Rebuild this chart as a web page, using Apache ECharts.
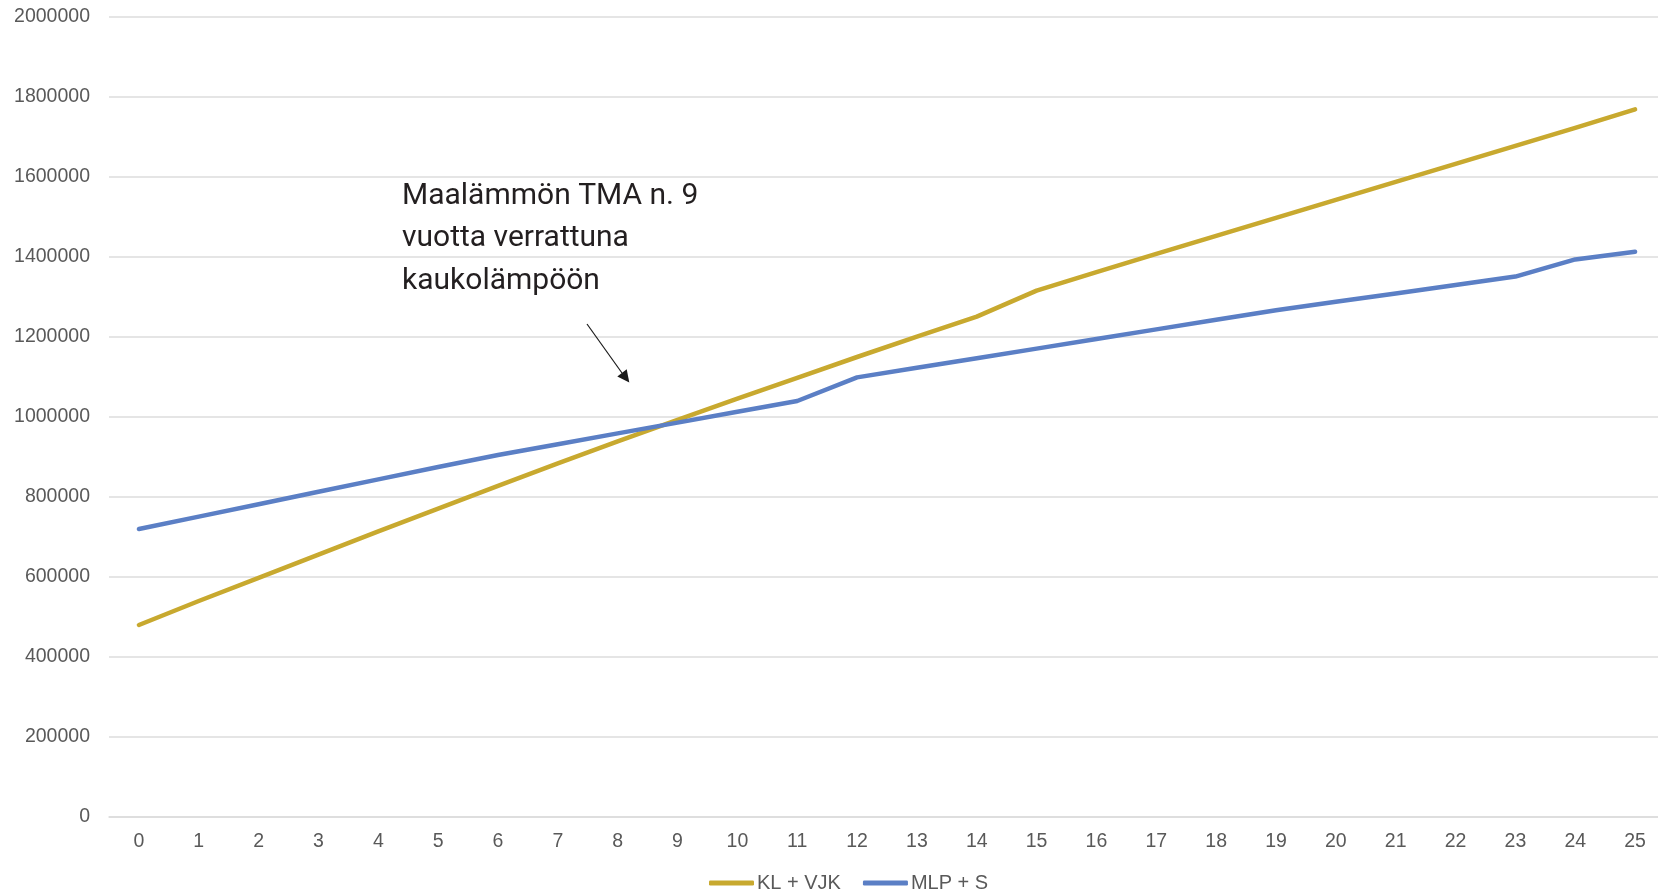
<!DOCTYPE html>
<html>
<head>
<meta charset="utf-8">
<script src="https://cdn.jsdelivr.net/npm/echarts@6/dist/echarts.min.js"></script>
<style>
  html, body { margin: 0; padding: 0; background: #ffffff; overflow: hidden; }
  /* the plot area runs slightly past the right edge of the window */
  #chart { width: 1672px; height: 894px; }
</style>
</head>
<body>
<div id="chart"></div>
<script>
// Years since investment
const years = ['0','1','2','3','4','5','6','7','8','9','10','11','12','13','14','15','16','17','18','19','20','21','22','23','24','25'];

// Cumulative costs, district heating + water-cooled chiller
const klVjk = [480000, 540000, 598000, 656000, 714000, 771000, 828000, 884000, 939000, 993000,
               1046000, 1098000, 1150000, 1201000, 1251000, 1316000, 1362000, 1408000, 1453000, 1498000,
               1543000, 1588000, 1633000, 1678000, 1723000, 1769000];

// Cumulative costs, ground-source heat pump + solar
const mlpS = [720000, 751000, 782000, 813000, 844000, 875000, 905000, 932000, 959000, 986000,
              1013000, 1040000, 1099000, 1123000, 1147000, 1171000, 1195000, 1219000, 1243000, 1267000,
              1288000, 1309000, 1330000, 1351000, 1394000, 1413000];

const seriesNames = ['KL + VJK', 'MLP + S'];
const yTicks = { min: 0, max: 2000000, step: 200000 };
const noteLines = ['Maalämmön TMA n. 9', 'vuotta verrattuna', 'kaukolämpöön'];

const gold = '#C8A92F';
const blue = '#5B7FC5';
const labelColor = '#595959';
const gridColor = '#dcdcdc';

const chart = echarts.init(document.getElementById('chart'), null, { renderer: 'canvas' });

chart.setOption({
  backgroundColor: '#ffffff',
  animation: false,
  grid: { left: 109, top: 17, width: 1556, height: 800, containLabel: false },
  xAxis: {
    type: 'category',
    data: years,
    boundaryGap: true,
    axisLine: { show: true, lineStyle: { color: gridColor, width: 1.5 } },
    axisTick: { show: false },
    axisLabel: { color: labelColor, fontSize: 19.5, fontFamily: 'Liberation Sans', margin: 15 }
  },
  yAxis: {
    type: 'value',
    min: yTicks.min,
    max: yTicks.max,
    interval: yTicks.step,
    axisLine: { show: false },
    axisTick: { show: false },
    splitLine: { lineStyle: { color: gridColor, width: 1.5 } },
    axisLabel: {
      color: labelColor, fontSize: 19.5, fontFamily: 'Liberation Sans', margin: 19,
      formatter: v => String(v)
    }
  },
  legend: {
    data: seriesNames,
    left: 704,
    top: 868,
    itemWidth: 45,
    itemHeight: 5,
    itemGap: 22,
    icon: 'roundRect',
    textStyle: { color: labelColor, fontSize: 20, fontFamily: 'Liberation Sans', padding: [0, 0, 0, -2] }
  },
  series: [
    {
      name: seriesNames[0], type: 'line', data: klVjk,
      symbol: 'none', smooth: false,
      lineStyle: { color: gold, width: 4.5, cap: 'round', join: 'round' },
      itemStyle: { color: gold }
    },
    {
      name: seriesNames[1], type: 'line', data: mlpS,
      symbol: 'none', smooth: false,
      lineStyle: { color: blue, width: 4.5, cap: 'round', join: 'round' },
      itemStyle: { color: blue }
    }
  ],
  graphic: [
    {
      type: 'text', left: 402, top: 175, z: 10,
      style: {
        text: noteLines.join('\n'),
        fontSize: 30, fontFamily: 'Roboto', lineHeight: 42.5,
        fill: '#231f20'
      }
    },
    {
      type: 'line', z: 10,
      shape: { x1: 587, y1: 324, x2: 622, y2: 373 },
      style: { stroke: '#1a1a1a', lineWidth: 1.2 }
    },
    {
      type: 'polygon', z: 10,
      shape: { points: [[617.3, 376.5], [629.3, 382.5], [626.7, 369.3]] },
      style: { fill: '#1a1a1a' }
    }
  ]
});
</script>
</body>
</html>
